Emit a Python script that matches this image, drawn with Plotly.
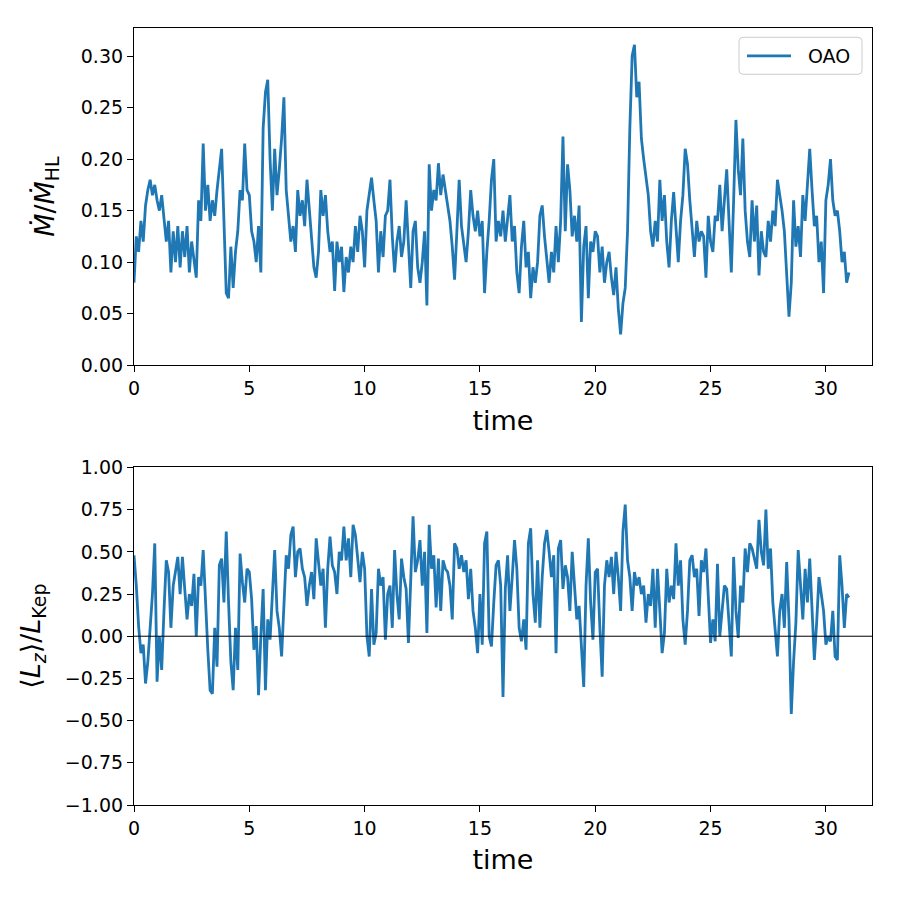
import numpy as np
import plotly.graph_objects as go

# simulation output times (uniform step 0.1)
time = np.round(np.arange(0, 31.0001, 0.1), 1)

# accretion rate normalised to Hoyle-Lyttleton
mdot = [
    0.080, 0.125, 0.110, 0.140, 0.120, 0.155, 0.170, 0.180, 0.165, 0.175,
    0.160, 0.150, 0.165, 0.145, 0.120, 0.140, 0.090, 0.130, 0.100, 0.135,
    0.095, 0.130, 0.105, 0.135, 0.090, 0.120, 0.100, 0.085, 0.160, 0.140,
    0.215, 0.150, 0.175, 0.140, 0.160, 0.145, 0.170, 0.190, 0.210, 0.140,
    0.070, 0.065, 0.115, 0.075, 0.110, 0.130, 0.170, 0.160, 0.215, 0.170,
    0.165, 0.130, 0.120, 0.100, 0.135, 0.090, 0.230, 0.265, 0.277, 0.200,
    0.150, 0.210, 0.165, 0.190, 0.220, 0.260, 0.170, 0.145, 0.120, 0.135,
    0.110, 0.170, 0.145, 0.160, 0.135, 0.180, 0.150, 0.120, 0.095, 0.085,
    0.110, 0.170, 0.145, 0.165, 0.130, 0.110, 0.120, 0.072, 0.120, 0.100,
    0.115, 0.071, 0.105, 0.090, 0.115, 0.100, 0.135, 0.110, 0.145, 0.130,
    0.095, 0.150, 0.165, 0.182, 0.160, 0.140, 0.090, 0.130, 0.105, 0.145,
    0.150, 0.180, 0.125, 0.090, 0.120, 0.135, 0.105, 0.120, 0.160, 0.110,
    0.075, 0.130, 0.140, 0.095, 0.080, 0.100, 0.130, 0.058, 0.195, 0.150,
    0.170, 0.160, 0.196, 0.165, 0.185, 0.170, 0.155, 0.140, 0.115, 0.083,
    0.130, 0.180, 0.135, 0.120, 0.100, 0.130, 0.170, 0.145, 0.130, 0.150,
    0.125, 0.140, 0.070, 0.110, 0.140, 0.180, 0.200, 0.120, 0.140, 0.125,
    0.150, 0.120, 0.140, 0.165, 0.120, 0.135, 0.090, 0.070, 0.115, 0.140,
    0.095, 0.110, 0.065, 0.095, 0.080, 0.100, 0.145, 0.155, 0.125, 0.105,
    0.080, 0.110, 0.090, 0.135, 0.100, 0.140, 0.222, 0.130, 0.195, 0.170,
    0.125, 0.145, 0.120, 0.155, 0.042, 0.115, 0.135, 0.065, 0.120, 0.110,
    0.130, 0.125, 0.090, 0.115, 0.080, 0.100, 0.110, 0.085, 0.068, 0.095,
    0.055, 0.030, 0.060, 0.075, 0.130, 0.230, 0.300, 0.311, 0.260, 0.275,
    0.220, 0.200, 0.180, 0.165, 0.130, 0.115, 0.140, 0.120, 0.180, 0.140,
    0.165, 0.120, 0.095, 0.140, 0.168, 0.130, 0.100, 0.140, 0.165, 0.210,
    0.195, 0.160, 0.135, 0.105, 0.140, 0.120, 0.130, 0.125, 0.085, 0.145,
    0.120, 0.110, 0.145, 0.140, 0.175, 0.130, 0.160, 0.190, 0.140, 0.090,
    0.160, 0.238, 0.190, 0.165, 0.220, 0.150, 0.120, 0.105, 0.160, 0.120,
    0.155, 0.087, 0.130, 0.110, 0.105, 0.140, 0.120, 0.150, 0.135, 0.180,
    0.165, 0.150, 0.130, 0.090, 0.047, 0.080, 0.160, 0.115, 0.135, 0.105,
    0.165, 0.140, 0.180, 0.210, 0.170, 0.135, 0.145, 0.100, 0.120, 0.070,
    0.160, 0.175, 0.200, 0.160, 0.145, 0.150, 0.130, 0.100, 0.110, 0.080,
    0.090,
]

# specific angular momentum normalised to Keplerian
lz = [
    0.48, 0.30, 0.06, -0.10, -0.05, -0.28, -0.15, 0.05, 0.25, 0.55,
    -0.27, 0.00, -0.20, 0.15, 0.45, 0.38, 0.05, 0.30, 0.40, 0.47,
    0.25, 0.47, 0.28, 0.10, 0.25, 0.18, 0.37, 0.00, 0.35, 0.30,
    0.51, 0.20, -0.08, -0.32, -0.34, 0.05, -0.18, 0.42, 0.46, 0.20,
    0.62, 0.20, -0.15, -0.32, 0.05, -0.20, 0.49, 0.32, 0.20, 0.40,
    0.38, 0.22, -0.08, 0.06, -0.35, 0.00, 0.28, -0.32, 0.10, -0.02,
    0.25, 0.51, 0.15, 0.05, -0.12, 0.20, 0.48, 0.40, 0.60, 0.65,
    0.35, 0.50, 0.52, 0.40, 0.35, 0.18, 0.30, 0.38, 0.22, 0.58,
    0.45, 0.30, 0.40, 0.05, 0.40, 0.59, 0.42, 0.38, 0.25, 0.50,
    0.45, 0.65, 0.45, 0.58, 0.35, 0.66, 0.60, 0.45, 0.32, 0.50,
    0.40, 0.00, -0.12, 0.28, -0.05, 0.02, 0.40, 0.30, 0.35, -0.02,
    0.25, 0.30, 0.05, 0.51, 0.25, 0.10, 0.46, 0.35, 0.28, -0.04,
    0.30, 0.71, 0.38, 0.45, 0.57, 0.30, 0.50, 0.02, 0.66, 0.40,
    0.48, 0.17, 0.46, 0.15, 0.45, 0.40, 0.38, 0.30, 0.10, 0.55,
    0.52, 0.40, 0.48, 0.38, 0.45, 0.22, 0.40, 0.15, 0.05, -0.10,
    0.25, -0.05, 0.55, 0.62, 0.00, -0.06, 0.20, 0.42, 0.45, 0.30,
    -0.36, 0.28, 0.48, 0.15, 0.35, 0.57, 0.40, 0.05, -0.03, 0.10,
    -0.08, 0.55, 0.64, 0.25, 0.08, 0.45, 0.05, 0.35, 0.55, 0.63,
    0.50, 0.35, 0.48, -0.10, 0.52, 0.57, 0.28, 0.42, 0.35, 0.15,
    0.50, 0.30, 0.10, 0.18, -0.05, -0.30, 0.30, 0.58, 0.20, -0.02,
    0.38, 0.40, 0.05, -0.24, 0.30, 0.45, 0.35, 0.47, 0.25, 0.50,
    0.35, 0.15, 0.62, 0.78, 0.45, 0.35, 0.15, 0.38, 0.30, 0.35,
    0.25, 0.30, 0.08, 0.25, 0.18, 0.40, 0.05, 0.40, 0.15, -0.10,
    0.02, 0.40, 0.20, 0.30, 0.22, 0.55, 0.30, 0.45, 0.10, -0.05,
    0.15, 0.45, 0.48, 0.35, 0.40, 0.12, 0.45, 0.38, 0.52, 0.20,
    -0.04, 0.10, -0.03, 0.43, 0.00, 0.15, 0.30, 0.28, 0.05, -0.12,
    0.47, 0.15, -0.01, 0.30, 0.20, 0.52, 0.38, 0.55, 0.52, 0.45,
    0.40, 0.69, 0.50, 0.42, 0.75, 0.40, 0.52, 0.20, 0.05, -0.12,
    0.15, 0.25, 0.05, 0.44, 0.10, -0.46, -0.15, 0.08, 0.51, 0.30,
    0.10, 0.40, 0.20, 0.46, 0.15, -0.14, 0.08, 0.35, 0.25, 0.15,
    -0.05, 0.00, -0.03, 0.15, -0.12, -0.14, 0.48, 0.30, 0.05, 0.25,
    0.23,
]

series_name = "OAO"
x_ticks = [0, 5, 10, 15, 20, 25, 30]
top_ticks = [0.00, 0.05, 0.10, 0.15, 0.20, 0.25, 0.30]
bot_ticks = [-1.00, -0.75, -0.50, -0.25, 0.00, 0.25, 0.50, 0.75, 1.00]

BLUE = "#1f77b4"
FONT = "DejaVu Sans"
TICK_SIZE = 19
LABEL_SIZE = 27

fig = go.Figure()
fig.add_trace(go.Scatter(x=time, y=mdot, mode="lines", name=series_name,
                         line=dict(color=BLUE, width=2.8),
                         xaxis="x", yaxis="y", showlegend=False))
fig.add_trace(go.Scatter(x=time, y=lz, mode="lines", name=series_name,
                         line=dict(color=BLUE, width=2.8),
                         xaxis="x2", yaxis="y2", showlegend=False))

axis_common = dict(
    showline=True, linecolor="black", linewidth=1.2, mirror=True,
    ticks="outside", ticklen=6, tickwidth=1.2, tickcolor="black",
    showgrid=False, zeroline=False,
    tickfont=dict(family=FONT, size=TICK_SIZE, color="black"),
)

# legend box drawn in paper coordinates (matplotlib-style, rounded corners)
W, H = 738.0, 777.3
bx0, bx1 = (739 - 134) / W, (862 - 134) / W
by0, by1 = (805 - 74) / H, (805 - 37) / H
rx, ry = 4 / W, 4 / H
legend_path = (
    f"M{bx0+rx},{by0} L{bx1-rx},{by0} Q{bx1},{by0} {bx1},{by0+ry} "
    f"L{bx1},{by1-ry} Q{bx1},{by1} {bx1-rx},{by1} L{bx0+rx},{by1} "
    f"Q{bx0},{by1} {bx0},{by1-ry} L{bx0},{by0+ry} Q{bx0},{by0} {bx0+rx},{by0} Z"
)
ly = (805 - 55.5) / H

fig.update_layout(
    width=900, height=900,
    margin=dict(l=134, r=28, t=28, b=95),
    paper_bgcolor="white", plot_bgcolor="white",
    font=dict(family=FONT, color="black"),
    showlegend=False,
    xaxis=dict(axis_common, domain=[0, 1], anchor="y", range=[0, 32],
               tickvals=x_ticks,
               title=dict(text="time", font=dict(size=LABEL_SIZE), standoff=12)),
    yaxis=dict(axis_common, domain=[0.566, 1.0], anchor="x", range=[0, 0.3272],
               tickvals=top_ticks, tickformat=".2f",
               title=dict(text="<i>Ṁ</i>/<i>Ṁ</i><sub>HL</sub>",
                          font=dict(size=LABEL_SIZE), standoff=18)),
    xaxis2=dict(axis_common, domain=[0, 1], anchor="y2", range=[0, 32],
                tickvals=x_ticks,
                title=dict(text="time", font=dict(size=LABEL_SIZE), standoff=12)),
    yaxis2=dict(axis_common, domain=[0.0, 0.4344], anchor="x2", range=[-1, 1],
                tickvals=bot_ticks, tickformat=".2f",
                title=dict(text="⟨<i>L<sub>z</sub></i>⟩/<i>L</i><sub>Kep</sub>",
                           font=dict(size=LABEL_SIZE), standoff=16)),
    shapes=[
        dict(type="line", xref="x2 domain", yref="y2", x0=0, x1=1,
             y0=0, y1=0, line=dict(color="black", width=1), layer="above"),
        dict(type="path", xref="paper", yref="paper", path=legend_path,
             fillcolor="rgba(255,255,255,0.8)", line=dict(color="#cccccc", width=1),
             layer="above"),
        dict(type="line", xref="paper", yref="paper",
             x0=(747 - 134) / W, x1=(791 - 134) / W, y0=ly, y1=ly,
             line=dict(color=BLUE, width=2.8), layer="above"),
    ],
    annotations=[
        dict(text=series_name, xref="paper", yref="paper",
             x=(806 - 134) / W, y=ly, xanchor="left", yanchor="middle",
             showarrow=False, font=dict(family=FONT, size=TICK_SIZE, color="black")),
    ],
)

fig.write_html("out.html")
